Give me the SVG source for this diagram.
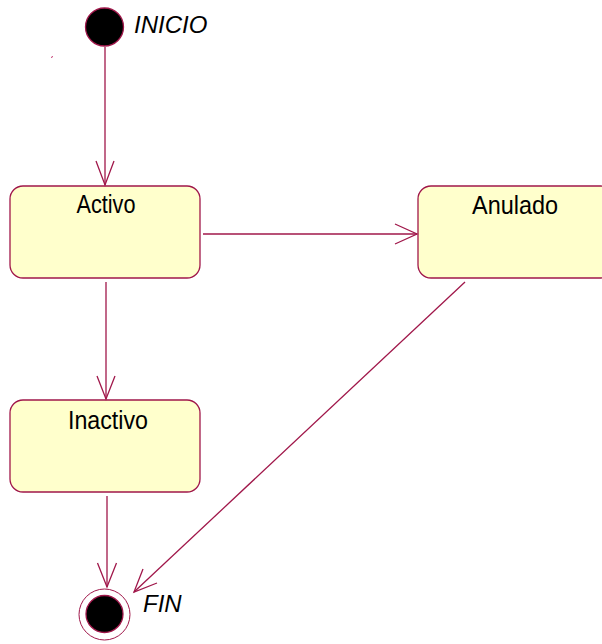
<svg xmlns="http://www.w3.org/2000/svg" width="602" height="644" viewBox="0 0 602 644">
  <defs>
    <style>
      .state { fill: #ffffcc; stroke: #a0174a; stroke-width: 1.3; }
      .edge { fill: none; stroke: #a0174a; stroke-width: 1.3; }
      .label { font-family: "Liberation Sans", Arial, sans-serif; font-size: 25px; fill: #000; text-anchor: middle; }
      .italic { font-family: "Liberation Sans", Arial, sans-serif; font-size: 24px; font-style: italic; fill: #000; }
    </style>
  </defs>

  <rect width="602" height="644" fill="#ffffff"/>

  <!-- initial pseudo-state -->
  <g id="inicio">
    <circle cx="104.5" cy="27" r="19" fill="#000" stroke="#a0174a" stroke-width="1.3"/>
    <text class="italic" x="134" y="33">INICIO</text>
  </g>

  <!-- small stray tick -->
  <path d="M52.5 56 L51.5 58" stroke="#c0306a" stroke-width="1" fill="none"/>

  <g id="activo">
    <rect class="state" x="10" y="186" width="190" height="92" rx="13" ry="13"/>
    <text class="label" x="106" y="213" textLength="59" lengthAdjust="spacingAndGlyphs">Activo</text>
  </g>

  <g id="anulado">
    <rect class="state" x="418" y="186" width="196" height="92" rx="13" ry="13"/>
    <text class="label" x="515" y="214" textLength="86" lengthAdjust="spacingAndGlyphs">Anulado</text>
  </g>

  <g id="inactivo">
    <rect class="state" x="10" y="400" width="190" height="92" rx="13" ry="13"/>
    <text class="label" x="108" y="429" textLength="80" lengthAdjust="spacingAndGlyphs">Inactivo</text>
  </g>

  <!-- final pseudo-state -->
  <g id="fin">
    <circle cx="104.5" cy="614.5" r="25.5" fill="#fff" stroke="#a0174a" stroke-width="1"/>
    <circle cx="104.5" cy="614" r="18.5" fill="#000" stroke="#a0174a" stroke-width="1.3"/>
    <text class="italic" x="143" y="612">FIN</text>
  </g>

  <g id="connectors">
    <!-- INICIO -> Activo -->
    <path class="edge" d="M105 47 L105 185"/>
    <path class="edge" d="M96 161 L105 185 L114 161"/>
    <!-- Activo -> Anulado -->
    <path class="edge" d="M203 234 L417 234"/>
    <path class="edge" d="M395 224 L417 234 L395 244"/>
    <!-- Activo -> Inactivo -->
    <path class="edge" d="M106 282 L106 399"/>
    <path class="edge" d="M97 376 L106 399 L115 376"/>
    <!-- Inactivo -> FIN -->
    <path class="edge" d="M107 496 L107 587"/>
    <path class="edge" d="M97.5 563 L107 587 L116.5 563"/>
    <!-- Anulado -> FIN -->
    <path class="edge" d="M465 282 L134 592"/>
    <path class="edge" d="M143 569 L134 592 L157 583"/>
  </g>
</svg>
